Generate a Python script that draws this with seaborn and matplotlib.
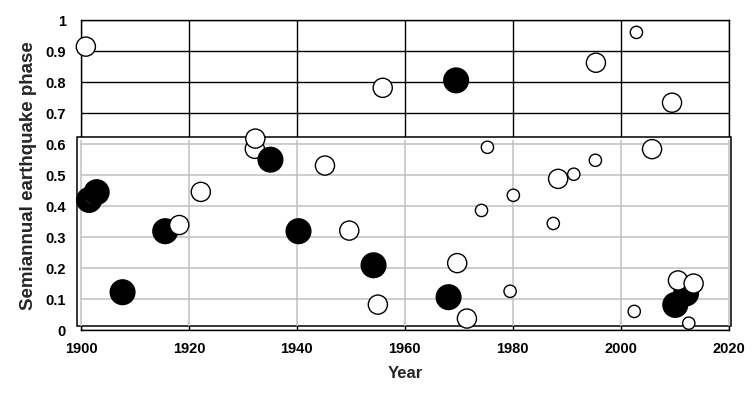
import numpy as np
import pandas as pd
import matplotlib
matplotlib.use('Agg')
import matplotlib.pyplot as plt
from matplotlib.patches import Rectangle
import seaborn as sns

# event year, phase and marker class, listed in drawing order
years = [1901.5, 1902.4, 1902.9, 1900.9, 1907.7, 1915.6, 1918.2, 1922.2,
         1932.2, 1932.3, 1935.1, 1940.3, 1945.2, 1949.7, 1954.2, 1955.0,
         1955.9, 1968.1, 1969.5, 1969.7, 1971.5, 1974.2, 1975.3, 1979.5,
         1980.1, 1987.5, 1988.4, 1991.3, 1995.3, 1995.4, 2002.5, 2002.9,
         2005.8, 2009.5, 2010.1, 2012.1, 2010.6, 2013.5, 2012.6]
phases = [0.420, 0.435, 0.445, 0.915, 0.122, 0.319, 0.339, 0.446,
          0.585, 0.618, 0.550, 0.319, 0.531, 0.321, 0.209, 0.082,
          0.782, 0.106, 0.806, 0.216, 0.037, 0.386, 0.590, 0.125,
          0.435, 0.344, 0.488, 0.503, 0.548, 0.863, 0.060, 0.961,
          0.584, 0.734, 0.081, 0.118, 0.160, 0.150, 0.022]
kinds = ['big', 'mid', 'big', 'mid', 'big', 'big', 'mid', 'mid',
         'mid', 'mid', 'big', 'big', 'mid', 'mid', 'big', 'mid',
         'mid', 'big', 'big', 'mid', 'mid', 'small', 'small', 'small',
         'small', 'small', 'mid', 'small', 'small', 'mid', 'small', 'small',
         'mid', 'mid', 'big', 'big', 'mid', 'mid', 'small']

x_ticks = [1900, 1920, 1940, 1960, 1980, 2000, 2020]
y_ticks = [0, 0.1, 0.2, 0.3, 0.4, 0.5, 0.6, 0.7, 0.8, 0.9, 1]
y_labels = ['0', '0.1', '0.2', '0.3', '0.4', '0.5', '0.6', '0.7', '0.8', '0.9', '1']

df = pd.DataFrame({'year': years, 'phase': phases, 'kind': kinds})

sns.set_style('white')
plt.rcParams['font.family'] = ['Liberation Sans', 'DejaVu Sans']

fig = plt.figure(figsize=(7.56, 3.97), dpi=100)
ax = fig.add_axes([81 / 756, 67 / 397, (728.7 - 81) / 756, (330 - 20.3) / 397])
ax.set_xlim(1900, 2020)
ax.set_ylim(0, 1)

# black grid of the original chart
ax.set_axisbelow(True)
ax.grid(True, color='black', linewidth=1)
for s in ax.spines.values():
    s.set_color('black')
    s.set_linewidth(1)

# white inset panel with gray grid covering the lower part
box_bottom, box_top = 0.012, 0.622
ax.add_patch(Rectangle((1899.35, box_bottom), 2020.5 - 1899.35, box_top - box_bottom,
                       facecolor='white', edgecolor='black', linewidth=1.1,
                       clip_on=False, zorder=2.6))
ax.hlines([0.1, 0.2, 0.3, 0.4, 0.5, 0.6], 1900, 2020, color='#c0c0c0',
          linewidth=1.1, zorder=2.7)
ax.vlines(x_ticks, box_bottom, box_top - 0.007, color='#c0c0c0', linewidth=1.1,
          zorder=2.7, clip_on=False)

sns.scatterplot(data=df, x='year', y='phase', hue='kind', size='kind',
                palette={'big': 'black', 'mid': 'white', 'small': 'white'},
                sizes={'big': 316, 'mid': 190, 'small': 78},
                edgecolor='black', linewidth=1, legend=False, ax=ax, zorder=3,
                clip_on=False)

ax.set_xticks(x_ticks)
ax.set_yticks(y_ticks)
ax.set_yticklabels(y_labels)
ax.tick_params(axis='x', direction='in', length=2.7, width=1, pad=8.5,
               labelsize=10.5, colors='black')
ax.tick_params(axis='y', length=0, pad=11, labelsize=10.5, colors='black')
for lab in ax.get_xticklabels() + ax.get_yticklabels():
    lab.set_fontweight('bold')

ax.set_xlabel('Year', fontsize=12, fontweight='bold', labelpad=7)
ax.set_ylabel('Semiannual earthquake phase', fontsize=13.5, fontweight='bold',
              labelpad=6)

fig.savefig('out.png', dpi=100)
